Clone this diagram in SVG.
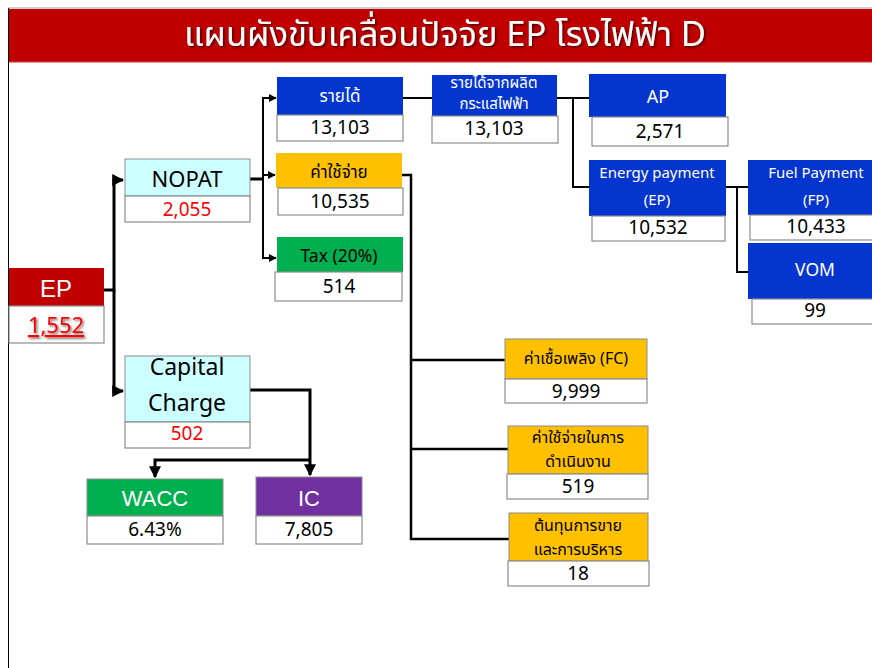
<svg xmlns="http://www.w3.org/2000/svg" width="872" height="668" viewBox="0 0 872 668">
<defs>
<marker id="ah" viewBox="0 0 10 10" refX="9" refY="5" markerWidth="4" markerHeight="4" orient="auto" markerUnits="strokeWidth">
<path d="M0,0 L10,5 L0,10 z" fill="#000"/>
</marker>
<filter id="sh" x="-10%" y="-10%" width="130%" height="140%">
<feDropShadow dx="1.5" dy="1.5" stdDeviation="0.8" flood-color="#000" flood-opacity="0.6"/>
</filter>
</defs>
<style>
.val{fill:#fff;stroke:#8c8c8c;stroke-width:1.2}
.hd{stroke:#8c8c8c;stroke-width:1}
.blue{fill:#0535CF}
.yel{fill:#FFC000}
.grn{fill:#00B050}
.cyan{fill:#CCFFFF}
.t{font-family:"Noto Sans Thai","Noto Sans","DejaVu Sans",sans-serif;text-anchor:middle}
.a{font-family:"Liberation Sans",Arial,sans-serif;text-anchor:middle}
.n{font-size:19px}
.w{fill:#fff}
.k{fill:#000}
.r{fill:#FF0000}
.c{fill:none;stroke:#000;stroke-linejoin:miter}
</style>
<rect x="0" y="0" width="872" height="668" fill="#fff"/>
<line x1="8" y1="8" x2="872" y2="8" stroke="#999" stroke-width="1"/>
<line x1="8.5" y1="8" x2="8.5" y2="668" stroke="#000" stroke-width="1"/>
<g id="title">
<rect x="9" y="9" width="863" height="53" fill="#C00000"/>
<line x1="9" y1="62" x2="872" y2="62" stroke="#d04040" stroke-width="1"/>
<text x="445" y="46" class="t w" font-size="34.5" filter="url(#sh)">แผนผังขับเคลื่อนปัจจัย EP โรงไฟฟ้า D</text>
</g>
<g id="connectors">
<path class="c" stroke-width="3" d="M104,290 H114 V180 H123" marker-end="url(#ah)"/>
<path class="c" stroke-width="3" d="M114,290 V391 H123" marker-end="url(#ah)"/>
<path class="c" stroke-width="3" d="M250,179 H263"/>
<path class="c" stroke-width="2" d="M263,179 V98 H276" marker-end="url(#ah)"/>
<path class="c" stroke-width="2" d="M263,175 H275" marker-end="url(#ah)"/>
<path class="c" stroke-width="2" d="M263,179 V258 H276" marker-end="url(#ah)"/>
<path class="c" stroke-width="2" d="M403,98 H432"/>
<path class="c" stroke-width="2" d="M557,98 H589"/>
<path class="c" stroke-width="2" d="M573,98 V187 H589"/>
<path class="c" stroke-width="2" d="M726,187 H748"/>
<path class="c" stroke-width="2" d="M737,187 V272 H748"/>
<path class="c" stroke-width="2.5" d="M402,175 H411 V539 H509"/>
<path class="c" stroke-width="2.5" d="M411,360 H505"/>
<path class="c" stroke-width="2.5" d="M411,449 H508"/>
<path class="c" stroke-width="3" d="M250,390 H310 V475" marker-end="url(#ah)"/>
<path class="c" stroke-width="3" d="M310,460 H155 V477" marker-end="url(#ah)"/>
</g>
<g id="ep">
<rect x="9" y="268" width="95" height="38" fill="#C00000"/>
<rect class="val" x="9" y="306" width="95" height="37"/>
<text x="56" y="297" class="a w" font-size="24">EP</text>
<text x="56" y="333" class="t r" font-size="22" text-decoration="underline" filter="url(#sh)">1,552</text>
</g>
<g id="nopat">
<rect class="hd cyan" x="125" y="159" width="125" height="37"/>
<rect class="val" x="125" y="196" width="125" height="26"/>
<text x="187" y="187" class="t k" font-size="22">NOPAT</text>
<text x="187" y="216" class="t r n">2,055</text>
</g>
<g id="capital">
<rect class="hd cyan" x="125" y="356" width="125" height="66"/>
<rect class="val" x="125" y="422" width="125" height="26"/>
<text x="187" y="375" class="t k" font-size="23">Capital</text>
<text x="187" y="411" class="t k" font-size="23">Charge</text>
<text x="187" y="440" class="t r n">502</text>
</g>
<g id="wacc">
<rect class="hd grn" x="87" y="479" width="136" height="37"/>
<rect class="val" x="87" y="516" width="136" height="28"/>
<text x="155" y="506" class="a w" font-size="22">WACC</text>
<text x="155" y="536" class="t k n">6.43%</text>
</g>
<g id="ic">
<rect class="hd" fill="#7030A0" x="256" y="477" width="106" height="39"/>
<rect class="val" x="256" y="516" width="106" height="28"/>
<text x="309" y="506" class="a w" font-size="22">IC</text>
<text x="309" y="536" class="t k n">7,805</text>
</g>
<g id="revenue">
<rect class="blue" x="277" y="77" width="126" height="38"/>
<rect class="val" x="277" y="115" width="126" height="26"/>
<text x="340" y="102" class="t w" font-size="17">รายได้</text>
<text x="340" y="134" class="t k n">13,103</text>
</g>
<g id="expense">
<rect class="yel" x="276" y="153" width="126" height="35"/>
<rect class="val" x="278" y="188" width="125" height="27"/>
<text x="339" y="178" class="t k" font-size="17">ค่าใช้จ่าย</text>
<text x="340" y="208" class="t k n">10,535</text>
</g>
<g id="tax">
<rect class="grn" x="277" y="237" width="126" height="35"/>
<rect class="val" x="275" y="272" width="127" height="29"/>
<text x="339" y="262" class="t k" font-size="17.5">Tax (20%)</text>
<text x="339" y="293" class="t k n">514</text>
</g>
<g id="elec-revenue">
<rect class="blue" x="432" y="75" width="125" height="41"/>
<text x="494" y="88" class="t w" font-size="15">รายได้จากผลิต</text>
<text x="494" y="109" class="t w" font-size="15">กระแสไฟฟ้า</text>
<rect class="val" x="432" y="116" width="126" height="27"/>
<text x="494" y="135" class="t k n">13,103</text>
</g>
<g id="ap">
<rect class="blue" x="589" y="74" width="137" height="43"/>
<rect class="val" x="592" y="117" width="136" height="29"/>
<text x="658" y="103" class="t w" font-size="18">AP</text>
<text x="660" y="138" class="t k n">2,571</text>
</g>
<g id="energy-payment">
<rect class="blue" x="589" y="160" width="137" height="56"/>
<rect class="val" x="592" y="216" width="133" height="25"/>
<text x="657" y="178" class="t w" font-size="15">Energy payment</text>
<text x="657" y="205" class="t w" font-size="15">(EP)</text>
<text x="658" y="234" class="t k n">10,532</text>
</g>
<g id="fuel-payment">
<rect class="blue" x="748" y="160" width="124" height="55"/>
<rect class="val" x="750" y="215" width="124" height="25"/>
<text x="816" y="178" class="t w" font-size="15">Fuel Payment</text>
<text x="816" y="205" class="t w" font-size="15">(FP)</text>
<text x="816" y="233" class="t k n">10,433</text>
</g>
<g id="vom">
<rect class="blue" x="748" y="243" width="124" height="56"/>
<rect class="val" x="752" y="299" width="122" height="25"/>
<text x="815" y="276" class="t w" font-size="17.5">VOM</text>
<text x="815" y="317" class="t k n">99</text>
</g>
<g id="fuel-cost">
<rect class="hd yel" x="505" y="339" width="142" height="40"/>
<rect class="val" x="505" y="379" width="142" height="24"/>
<text x="576" y="364" class="t k" font-size="16">ค่าเชื้อเพลิง (FC)</text>
<text x="576" y="398" class="t k n">9,999</text>
</g>
<g id="opex">
<rect class="hd yel" x="508" y="426" width="140" height="48"/>
<rect class="val" x="507" y="474" width="141" height="25"/>
<text x="578" y="443" class="t k" font-size="16">ค่าใช้จ่ายในการ</text>
<text x="578" y="467" class="t k" font-size="16">ดำเนินงาน</text>
<text x="578" y="493" class="t k n">519</text>
</g>
<g id="sga">
<rect class="hd yel" x="509" y="513" width="139" height="48"/>
<rect class="val" x="508" y="561" width="141" height="25"/>
<text x="578" y="531" class="t k" font-size="16">ต้นทุนการขาย</text>
<text x="578" y="555" class="t k" font-size="16">และการบริหาร</text>
<text x="578" y="580" class="t k n">18</text>
</g>
</svg>
